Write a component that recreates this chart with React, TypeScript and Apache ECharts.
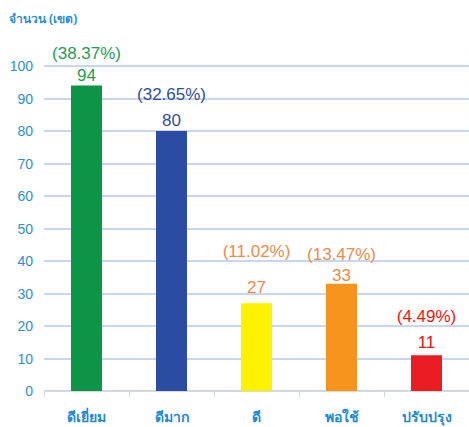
import React, { useEffect, useRef } from "react";
import * as echarts from "echarts";

const categories = ["ดีเยี่ยม", "ดีมาก", "ดี", "พอใช้", "ปรับปรุง"];
const values = [94, 80, 27, 33, 11];
const percents = ["(38.37%)", "(32.65%)", "(11.02%)", "(13.47%)", "(4.49%)"];
const yTicks = [0, 10, 20, 30, 40, 50, 60, 70, 80, 90, 100];

// styling (kept apart from the data)
const barColors = ["#0e9446", "#2a4da3", "#fff200", "#f7941d", "#ea1c24"];
const labelColors = ["#1f9e55", "#2f4e9f", "#ef8a4c", "#ef8a4c", "#ff1010"];
const valueLabelDistance = [0, 1, 6, -2, 3];
const percentLineHeight = [24, 32, 52, 22, 32];

export default function App() {
  const ref = useRef<HTMLDivElement>(null);
  useEffect(() => {
    const chart = echarts.init(ref.current!, null, { renderer: "svg" });
    chart.setOption({
      animation: false,
      backgroundColor: "#ffffff",
      textStyle: { fontFamily: "Arial, 'Liberation Sans', 'Noto Sans', sans-serif" },
      title: {
        text: "จำนวน (เขต)",
        left: 4,
        top: 7,
        textStyle: { fontSize: 12, fontWeight: "bold", color: "#2a8fd8", fontFamily: "'Noto Sans', sans-serif" },
      },
      grid: { left: 44, right: 0, top: 66, bottom: 36, containLabel: false },
      xAxis: {
        type: "category",
        data: categories,
        axisLine: { lineStyle: { color: "#d9d9d9", width: 1 } },
        axisTick: { show: true, length: 6, lineStyle: { color: "#d9d9d9" } },
        axisLabel: {
          color: "#1f8ad6",
          fontSize: 14,
          fontWeight: "bold",
          margin: 18,
          fontFamily: "'Noto Sans', sans-serif",
        },
      },
      yAxis: {
        type: "value",
        min: yTicks[0],
        max: yTicks[yTicks.length - 1],
        interval: 10,
        axisLine: { show: false },
        axisTick: { show: false },
        axisLabel: { color: "#2e8fd6", fontSize: 14, margin: 11 },
        splitLine: { lineStyle: { color: "#b8c8e8", width: 1.5 } },
      },
      series: [
        {
          type: "bar",
          barWidth: 31,
          data: values.map((v, i) => ({
            value: v,
            itemStyle: { color: barColors[i] },
            label: {
              show: true,
              position: "top",
              distance: valueLabelDistance[i],
              formatter: `{p|${percents[i]}}\n{v|${v}}`,
              rich: {
                p: { fontSize: 17, color: labelColors[i], lineHeight: percentLineHeight[i], align: "center" },
                v: { fontSize: 17, color: labelColors[i], lineHeight: 20, align: "center" },
              },
            },
          })),
        },
      ],
    });
    return () => chart.dispose();
  }, []);
  return <div ref={ref} style={{ width: 469, height: 427, position: "absolute", left: 0, top: 0 }} />;
}
